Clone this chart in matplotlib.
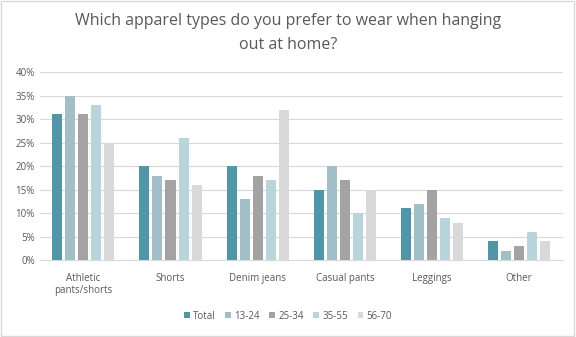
import numpy as np
import matplotlib.pyplot as plt
from matplotlib.patches import Rectangle

categories = ["Athletic\npants/shorts", "Shorts", "Denim jeans", "Casual pants", "Leggings", "Other"]
series = ["Total", "13-24", "25-34", "35-55", "56-70"]
total = [31, 20, 20, 15, 11, 4]
age_13_24 = [35, 18, 13, 20, 12, 2]
age_25_34 = [31, 17, 18, 17, 15, 3]
age_35_55 = [33, 26, 17, 10, 9, 6]
age_56_70 = [25, 16, 32, 15, 8, 4]
values = [total, age_13_24, age_25_34, age_35_55, age_56_70]
colors = ["#4f96a8", "#a1bfc7", "#a3a3a3", "#b9d5dc", "#d9d9d9"]

plt.rcParams['font.family'] = ['Open Sans', 'DejaVu Sans']
fig = plt.figure(figsize=(5.76, 3.37), dpi=100)
ax = fig.add_axes([0.069, 0.228, 0.908, 0.558])

x = np.arange(len(categories))
step = 0.15
width = 0.115
for i, (name, vals) in enumerate(zip(series, values)):
    ax.bar(x + (i - 2) * step, np.array(vals) / 100, width, color=colors[i], label=name, zorder=3)

ax.set_xlim(-0.5, len(categories) - 0.5)
ax.set_ylim(0, 0.40)
ax.set_yticks(np.arange(0, 0.41, 0.05))
ax.set_yticklabels([f"{int(round(v * 100))}%" for v in np.arange(0, 0.41, 0.05)])
ax.set_xticks(x)
ax.set_xticklabels(categories)
ax.tick_params(axis='both', length=0, labelsize=7, colors="#595959")
ax.tick_params(axis='x', pad=9)
ax.grid(axis='y', color="#d9d9d9", linewidth=0.8, zorder=0)
for s in ["top", "right", "left"]:
    ax.spines[s].set_visible(False)
ax.spines["bottom"].set_color("#d9d9d9")

fig.suptitle("Which apparel types do you prefer to wear when hanging\nout at home?",
             y=0.962, fontsize=11.5, color="#595959", linespacing=1.65)

fig.legend(loc="center", bbox_to_anchor=(0.5, 0.062), ncol=5, frameon=False,
           fontsize=7, labelcolor="#595959", handlelength=0.6, handleheight=0.6,
           handletextpad=0.3, columnspacing=1.0)

fig.patches.append(Rectangle((0.002, 0.003), 0.995, 0.994, transform=fig.transFigure,
                             fill=False, edgecolor="#d9d9d9", linewidth=1))

fig.savefig("out.png", dpi=100)
